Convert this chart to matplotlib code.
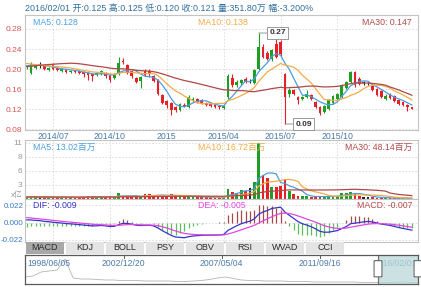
import numpy as np
import pandas as pd
import matplotlib
matplotlib.use('Agg')
import matplotlib.pyplot as plt
from matplotlib.patches import Rectangle, FancyBboxPatch

plt.rcParams['font.family'] = ['Liberation Sans', 'Noto Sans CJK SC']

# --- データ (週足) ---
LAST_DATE = '2016-02-01'
opens = [0.204, 0.193, 0.203, 0.208, 0.207, 0.198, 0.210, 0.202, 0.197, 0.198,
         0.194, 0.197, 0.196, 0.195, 0.193, 0.190, 0.188, 0.190, 0.192, 0.188,
         0.182, 0.190, 0.216, 0.208, 0.196, 0.182, 0.176, 0.196, 0.196, 0.186,
         0.178, 0.148, 0.136, 0.132, 0.124, 0.118, 0.128, 0.125, 0.138, 0.140,
         0.138, 0.132, 0.130, 0.128, 0.126, 0.122, 0.145, 0.182, 0.168, 0.172,
         0.180, 0.176, 0.172, 0.200, 0.245, 0.232, 0.220, 0.250, 0.255, 0.190,
         0.150, 0.158, 0.144, 0.140, 0.145, 0.148, 0.135, 0.125, 0.114, 0.120,
         0.132, 0.140, 0.145, 0.163, 0.174, 0.195, 0.181, 0.173, 0.172, 0.166,
         0.160, 0.156, 0.140, 0.150, 0.146, 0.138, 0.135, 0.128, 0.125]
highs = [0.209, 0.214, 0.209, 0.214, 0.209, 0.205, 0.212, 0.204, 0.202, 0.200,
         0.199, 0.199, 0.198, 0.197, 0.195, 0.192, 0.195, 0.198, 0.194, 0.190,
         0.192, 0.225, 0.222, 0.210, 0.198, 0.185, 0.186, 0.200, 0.200, 0.189,
         0.180, 0.150, 0.138, 0.134, 0.126, 0.133, 0.132, 0.148, 0.144, 0.143,
         0.140, 0.134, 0.132, 0.130, 0.128, 0.128, 0.190, 0.190, 0.178, 0.180,
         0.184, 0.180, 0.200, 0.272, 0.250, 0.236, 0.240, 0.260, 0.258, 0.192,
         0.162, 0.160, 0.146, 0.147, 0.158, 0.150, 0.137, 0.127, 0.128, 0.140,
         0.148, 0.152, 0.170, 0.177, 0.197, 0.197, 0.184, 0.177, 0.175, 0.168,
         0.162, 0.158, 0.150, 0.153, 0.148, 0.140, 0.137, 0.131, 0.125]
lows = [0.201, 0.190, 0.200, 0.203, 0.198, 0.196, 0.198, 0.197, 0.195, 0.193,
        0.192, 0.193, 0.190, 0.185, 0.179, 0.177, 0.186, 0.188, 0.182, 0.175,
        0.180, 0.188, 0.210, 0.190, 0.183, 0.172, 0.163, 0.186, 0.185, 0.174,
        0.148, 0.130, 0.122, 0.108, 0.114, 0.116, 0.124, 0.123, 0.135, 0.132,
        0.130, 0.127, 0.124, 0.122, 0.120, 0.120, 0.140, 0.165, 0.165, 0.168,
        0.172, 0.172, 0.170, 0.198, 0.222, 0.218, 0.216, 0.222, 0.226, 0.090,
        0.145, 0.148, 0.130, 0.138, 0.143, 0.138, 0.122, 0.108, 0.112, 0.118,
        0.130, 0.138, 0.143, 0.160, 0.172, 0.165, 0.168, 0.169, 0.168, 0.156,
        0.146, 0.143, 0.139, 0.141, 0.134, 0.128, 0.126, 0.117, 0.120]
closes = [0.206, 0.211, 0.207, 0.208, 0.200, 0.203, 0.200, 0.199, 0.200, 0.195,
          0.197, 0.195, 0.192, 0.190, 0.188, 0.186, 0.193, 0.196, 0.186, 0.178,
          0.190, 0.212, 0.214, 0.193, 0.186, 0.175, 0.184, 0.189, 0.190, 0.176,
          0.150, 0.133, 0.128, 0.118, 0.118, 0.131, 0.127, 0.145, 0.140, 0.135,
          0.133, 0.129, 0.126, 0.124, 0.125, 0.126, 0.185, 0.168, 0.175, 0.178,
          0.175, 0.176, 0.198, 0.245, 0.225, 0.220, 0.238, 0.225, 0.230, 0.145,
          0.158, 0.150, 0.138, 0.145, 0.150, 0.140, 0.125, 0.112, 0.126, 0.138,
          0.146, 0.150, 0.168, 0.175, 0.194, 0.168, 0.171, 0.173, 0.172, 0.158,
          0.148, 0.145, 0.147, 0.143, 0.136, 0.130, 0.128, 0.125, 0.121]
# 成交量 (亿)
volumes = [0.40, 0.60, 0.30, 0.30, 0.40, 0.30, 0.40, 0.30, 0.30, 0.40,
           0.30, 0.30, 0.30, 0.40, 0.50, 0.60, 0.40, 0.40, 0.30, 0.50,
           0.40, 1.20, 0.60, 0.50, 0.50, 0.50, 0.50, 0.90, 0.90, 0.60,
           0.70, 0.80, 0.60, 0.90, 0.50, 0.50, 0.40, 0.60, 0.40, 0.40,
           0.30, 0.30, 0.30, 0.30, 0.30, 0.40, 2.00, 1.40, 1.20, 1.80,
           1.60, 2.20, 3.30, 11.0, 4.70, 4.00, 2.40, 2.40, 2.50, 3.90,
           1.60, 1.00, 0.60, 0.50, 0.55, 0.40, 0.40, 0.55, 0.45, 0.60,
           0.55, 0.65, 1.10, 1.20, 1.30, 1.10, 0.55, 0.45, 0.40, 0.30,
           0.25, 0.20, 0.20, 0.18, 0.15, 0.16, 0.15, 0.15, 0.035]
# 表示範囲より前の週 (移動平均の計算用)
prior_closes = [0.178, 0.182, 0.180, 0.176, 0.181, 0.184, 0.179, 0.182, 0.185, 0.183,
                0.205, 0.215, 0.222, 0.228, 0.226, 0.230, 0.225, 0.222, 0.224, 0.220,
                0.223, 0.218, 0.215, 0.212, 0.210, 0.208, 0.206, 0.205, 0.207]
prior_volumes = [0.5, 0.4, 0.4, 0.3, 0.5, 0.6, 0.4, 0.3, 0.4, 0.5,
                 0.4, 0.3, 0.3, 0.4, 0.5, 0.4, 0.3, 0.4, 0.4, 0.5,
                 0.3, 0.4, 0.4, 0.3, 0.4, 0.5, 0.4, 0.3, 0.4]
# ナビゲーター (1998-2016 全期間)
nav_values = [7, 8, 12, 13, 14, 25, 6, 5, 5, 4.5, 4, 4, 3.5, 3.5, 3.5, 3, 3, 3, 3, 2.5,
              2.5, 3, 3.5, 4.5, 6, 7, 5.5, 4, 3.5, 3.5, 3, 3, 3, 2.5, 2.5, 2.5, 2, 2, 2, 2,
              2, 2, 1.5, 1.5, 1.5, 1.5, 1.5, 2, 1.5, 1.5]
nav_labels = ['1998/06/05', '2002/12/20', '2007/05/04', '2011/09/16', '2016/02/01']
tab_names = ['MACD', 'KDJ', 'BOLL', 'PSY', 'OBV', 'RSI', 'WVAD', 'CCI']
header = '2016/02/01 开:0.125 高:0.125 低:0.120 收:0.121 量:351.80万 幅:-3.200%'
price_ma_text = ['MA5: 0.128', 'MA10: 0.138', 'MA30: 0.147']
vol_ma_text = ['MA5: 13.02百万', 'MA10: 16.72百万', 'MA30: 48.14百万']
macd_text = ['DIF: -0.009', 'DEA: -0.005', 'MACD: -0.007']

RED, GREEN = '#e62026', '#1f9e24'
MA_COLORS = ['#4a9ee0', '#f0ac48', '#b04848']
GRID = dict(color='#d9d9d9', linestyle=(0, (2, 2)), linewidth=0.6)

n = len(closes)
x = np.arange(n)
dates = pd.date_range(end=LAST_DATE, periods=n, freq='7D')
o, h, l, c = map(np.array, (opens, highs, lows, closes))
colors = np.where(c > o, GREEN, np.where(c < o, RED, '#222222'))

all_close = pd.Series(prior_closes + closes)
all_vol = pd.Series(prior_volumes + volumes)
k0 = len(prior_closes)
ma_p = [all_close.rolling(w).mean().values[k0:] for w in (5, 10, 30)]
ma_v = [all_vol.rolling(w).mean().values[k0:] for w in (5, 10, 30)]
dif_all = all_close.ewm(span=12, adjust=False).mean() - all_close.ewm(span=26, adjust=False).mean()
dea_all = dif_all.ewm(span=9, adjust=False).mean()
dif = dif_all.values[k0:]
dea = dea_all.values[k0:]
hist = 2 * (dif - dea)

# 月の区切り (右端近くは表示しない)
tick_pos, tick_lab = [], []
for i in range(1, n - 8):
    if dates[i].month != dates[i - 1].month and dates[i].month in (1, 4, 7, 10):
        tick_pos.append(i)
        tick_lab.append(str(dates[i].year) if dates[i].month == 1 else dates[i].strftime('%Y/%m'))

W, H = 421, 287
fig = plt.figure(figsize=(W / 100, H / 100), dpi=100)


def box(x0, y0, x1, y1):
    return [x0 / W, 1 - y1 / H, (x1 - x0) / W, (y1 - y0) / H]


ax_p = fig.add_axes(box(25, 15, 418, 130))
ax_v = fig.add_axes(box(25, 140, 418, 199))
ax_m = fig.add_axes(box(25, 199, 418, 242))

for ax in (ax_p, ax_v, ax_m):
    ax.set_xlim(-0.4, n + 0.4)
    ax.set_xticks(tick_pos)
    ax.set_xticklabels([])
    ax.tick_params(length=0, labelsize=6, pad=2)
    ax.grid(**GRID)
    ax.set_axisbelow(True)
    for s in ax.spines.values():
        s.set_color('#c4c4c4')
        s.set_linewidth(0.8)

# --- K線 ---
ax_p.vlines(x, l, h, colors=colors, linewidth=0.8, zorder=2)
body = np.maximum(np.abs(c - o), 0.0007)
ax_p.bar(x, body, bottom=np.minimum(o, c), width=0.62, color=colors, linewidth=0, zorder=2)
for ma, col in zip(ma_p, MA_COLORS):
    ax_p.plot(x, ma, color=col, linewidth=0.9, zorder=3)
ax_p.set_ylim(0.078, 0.308)
ax_p.set_yticks([0.08, 0.12, 0.16, 0.20, 0.24, 0.28])
ax_p.set_yticklabels(['%.2f' % v for v in ax_p.get_yticks()], color='#d85454')
ax_p.set_xticklabels(tick_lab, color='#4a7aaa', fontsize=6.3)
ax_p.tick_params(axis='x', pad=1.5)

imax, imin = int(np.argmax(h)), int(np.argmin(l))
for idx, val in ((imax, h[imax]), (imin, l[imin])):
    ax_p.annotate('%.2f' % val, xy=(idx, val), xytext=(idx + 2.4, val), va='center', ha='left',
                  fontsize=6, color='#333333', fontweight='bold',
                  bbox=dict(boxstyle='square,pad=0.25', fc='white', ec='#8a8a8a', lw=0.6),
                  arrowprops=dict(arrowstyle='-', color='#8a8a8a', lw=0.6, shrinkA=0, shrinkB=0),
                  zorder=5)

# --- 成交量 ---
ax_v.bar(x, volumes, width=0.62, color=colors, linewidth=0, zorder=2)
for ma, col in zip(ma_v, MA_COLORS):
    ax_v.plot(x, ma, color=col, linewidth=0.9, zorder=3)
ax_v.set_ylim(0, 11.5)
ax_v.set_yticks([0, 2.75, 5.5, 8.25, 11])
ax_v.set_yticklabels(['x亿', '3', '6', '8', '11'], color='#9a9a9a')
ax_v.get_yticklabels()[0].set_fontsize(5.6)
ax_v.get_yticklabels()[0].set_va('bottom')

# --- MACD ---
ax_m.vlines(x, 0, hist, colors=np.where(hist >= 0, '#a84848', '#5cbf5c'), linewidth=0.9, zorder=2)
ax_m.plot(x, dif, color='#3434c8', linewidth=0.9, zorder=3)
ax_m.plot(x, dea, color='#e046e0', linewidth=0.9, zorder=3)
ax_m.set_ylim(-0.0248, 0.0300)
ax_m.set_yticks([-0.022, 0, 0.022])
ax_m.set_yticklabels(['-0.022', '0.000', '0.022'], color='#3a78c0', fontsize=5.8)
ax_m.tick_params(axis='y', pad=1)

for ax, texts, y in ((ax_p, price_ma_text, 0.935), (ax_v, vol_ma_text, 0.88), (ax_m, macd_text, 0.86)):
    ax.text(0.02, y, texts[0], transform=ax.transAxes, color=MA_COLORS[0] if ax is not ax_m else '#3434c8',
            fontsize=6.3, va='center')
    ax.text(0.44, y, texts[1], transform=ax.transAxes, color=MA_COLORS[1] if ax is not ax_m else '#e046e0',
            fontsize=6.3, va='center')
    ax.text(0.985, y, texts[2], transform=ax.transAxes, color=MA_COLORS[2], fontsize=6.3,
            va='center', ha='right')

fig.text(25 / W, 1 - 8 / H, header, fontsize=6.4, color='#2f6e9e', va='center')

# --- タブ ---
ax_t = fig.add_axes(box(25, 242, 345, 254))
ax_t.set_xlim(0, len(tab_names))
ax_t.set_ylim(0, 1)
ax_t.axis('off')
for k, name in enumerate(tab_names):
    ax_t.add_patch(Rectangle((k + 0.015, 0), 0.97, 1, fc='#a8a8a8' if k == 0 else '#e4e4e4', ec='none'))
    ax_t.text(k + 0.5, 0.5, name, ha='center', va='center', fontsize=6.5, color='#2a2a2a')

# --- ナビゲーター ---
ax_n = fig.add_axes(box(25, 255, 418, 284))
ax_n.set_xlim(0, len(nav_values) - 1)
ax_n.set_ylim(0, 29)
ax_n.set_xticks([])
ax_n.set_yticks([])
for s in ax_n.spines.values():
    s.set_color('#5a5a5a')
    s.set_linewidth(0.9)
ax_n.plot(np.arange(len(nav_values)), nav_values, color='#b4b4b4', linewidth=0.6)
lab_x = [0.005, (123.5 - 25) / 393, (221.5 - 25) / 393, (320 - 25) / 393, 0.997]
for k, (lx, lab) in enumerate(zip(lab_x, nav_labels)):
    ha = 'left' if k == 0 else ('right' if k == len(nav_labels) - 1 else 'center')
    ax_n.text(lx, 0.72, lab, transform=ax_n.transAxes, ha=ha, va='center', fontsize=6.2, color='#4a7aaa')
    if 0 < k < len(nav_labels) - 1:
        ax_n.plot([lx, lx], [1, 0.88], transform=ax_n.transAxes, color='#5a5a5a', lw=0.7)
sel0 = (378 - 25) / 393
ax_n.add_patch(Rectangle((sel0, 0), 1 - sel0, 1, transform=ax_n.transAxes,
                         fc='#bcd9d9', ec='#4a4a4a', lw=0.9, alpha=0.75, zorder=4))
for hx in (sel0, 1.0):
    ax_n.add_patch(FancyBboxPatch((hx - 0.006, 0.25), 0.012, 0.55, transform=ax_n.transAxes,
                                  boxstyle='round,pad=0.004', fc='white', ec='#5a5a5a', lw=0.7,
                                  zorder=5, clip_on=False))

fig.savefig('out.png', dpi=100)
